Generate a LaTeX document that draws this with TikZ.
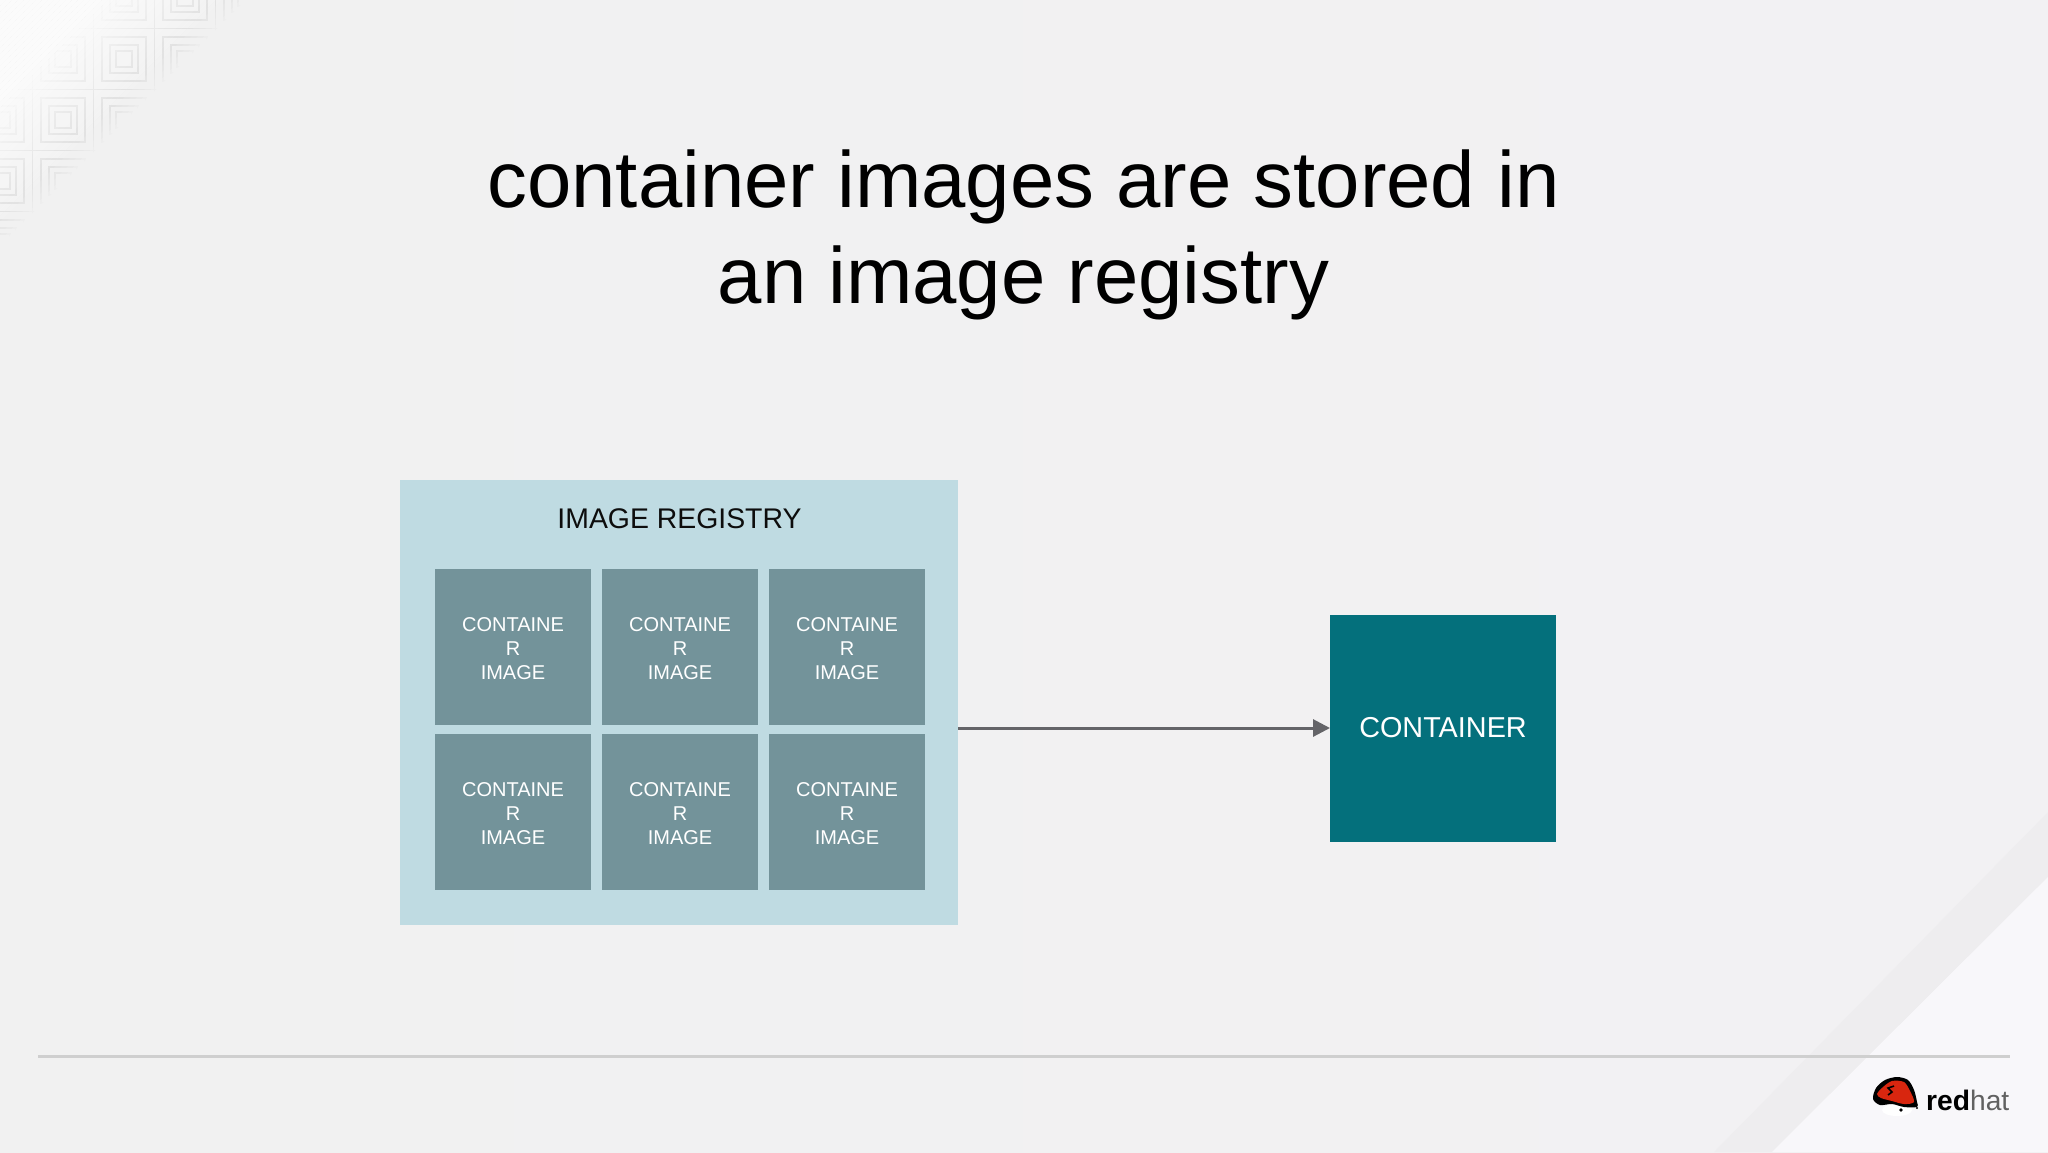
\documentclass[tikz,border=0pt]{standalone}
\usepackage{fontspec}
\setmainfont{Liberation Sans}
\usetikzlibrary{arrows.meta}
\definecolor{bgL}{HTML}{F1F1F1}
\definecolor{bgR}{HTML}{F2F1F3}
\definecolor{bandc}{HTML}{EEEDEF}
\definecolor{lightc}{HTML}{F8F7FA}
\definecolor{cornerc}{HTML}{FBFBFB}
\definecolor{patc}{HTML}{DADADA}
\definecolor{regc}{HTML}{BFDBE2}
\definecolor{imgc}{HTML}{73939A}
\definecolor{contc}{HTML}{04707C}
\definecolor{arrc}{HTML}{646468}
\definecolor{rulec}{HTML}{CFCFCF}
\definecolor{hatred}{HTML}{D8260F}
\newcommand{\imglabel}{\rule{0pt}{17pt}CONTAINE\\R\\IMAGE}
\tikzset{
  regbox/.style={fill=regc,draw=none,minimum width=558pt,minimum height=445pt,inner sep=0pt,outer sep=0pt},
  imgbox/.style={fill=imgc,draw=none,text=white,minimum width=156pt,minimum height=156pt,inner sep=0pt,outer sep=0pt,align=center,font=\fontsize{20}{24}\selectfont},
  contbox/.style={fill=contc,draw=none,text=white,minimum width=226pt,minimum height=227pt,inner sep=0pt,outer sep=0pt,font=\fontsize{28.8}{34}\selectfont},
  titletext/.style={align=center,inner sep=0pt,text=black,font=\fontsize{79.7}{96}\selectfont},
  regtext/.style={inner sep=0pt,text=black!95,font=\fontsize{28.4}{34}\selectfont},
  flow/.style={draw=arrc,line width=3pt,-{Triangle[length=17pt,width=17pt]}},
  patline/.style={draw=patc,line width=1.6pt}
}
\begin{document}
\begin{tikzpicture}[x=1pt,y=-1pt]
\useasboundingbox (0,0) rectangle (2048,1152);
% background
\shade[left color=bgL,right color=bgR] (0,0) rectangle (2048,1152);
\fill[bandc] (2048,812) -- (2048,877) -- (1772,1152) -- (1714,1152) -- cycle;
\fill[lightc] (2048,877) -- (2048,1152) -- (1772,1152) -- cycle;
% corner pattern
\begin{scope}
\clip (0,0) -- (245,0) -- (0,245) -- cycle;
\foreach \i in {0,...,4}{\foreach \j in {0,...,4}{
  \pgfmathsetmacro{\cx}{2+61*\i}
  \pgfmathsetmacro{\cy}{-2+61*\j}
  \foreach \h in {8,14,22,30.5}{
    \draw[patline] (\cx-\h,\cy-\h) rectangle (\cx+\h,\cy+\h);
  }
}}
\end{scope}
\foreach \s in {0,6,...,240}{
  \pgfmathsetmacro{\aval}{min(1,max(0,(248-\s)/150))}
  \fill[cornerc,fill opacity=\aval] (\s,0) -- (\s+6,0) -- (0,\s+6) -- (0,\s) -- cycle;
}
\foreach \s in {216,222,...,240}{
  \pgfmathsetmacro{\aval}{min(.95,(\s-210)/36)}
  \fill[bgL,fill opacity=\aval] (\s,0) -- (\s+6,0) -- (0,\s+6) -- (0,\s) -- cycle;
}
% title
\node[titletext] (title) at (1023.5,234.5) {container images are stored in\\an image registry};
% registry
\node[regbox] (registry) at (679,702.5) {};
\node[regtext] (regtitle) at (679.5,519) {IMAGE REGISTRY};
\node[imgbox] (i11) at (513,647) {\imglabel};
\node[imgbox] (i12) at (680,647) {\imglabel};
\node[imgbox] (i13) at (847,647) {\imglabel};
\node[imgbox] (i21) at (513,812) {\imglabel};
\node[imgbox] (i22) at (680,812) {\imglabel};
\node[imgbox] (i23) at (847,812) {\imglabel};
% container
\node[contbox] (container) at (1443,728) {CONTAINER};
\draw[flow] (registry.east |- container.west) -- (container.west);
% rule
\coordinate (ruleL) at (38,1056.5);
\coordinate (ruleR) at (2010,1056.5);
\draw[rulec,line width=3pt] (ruleL) -- (ruleR);
% logo
\fill[white] (1897,1110) ellipse (15pt and 6pt);
\fill[black] plot[smooth cycle] coordinates {(1873,1099) (1876,1088) (1885,1080) (1897,1077) (1908,1080) (1914,1090) (1917,1102) (1917,1107) (1904,1107) (1892,1104) (1880,1105)};
\fill[hatred] plot[smooth cycle] coordinates {(1877,1094) (1883,1087) (1892,1081) (1904,1082) (1910,1091) (1914,1102) (1904,1104) (1892,1101) (1881,1098)};
\draw[black,line width=1.6pt] (1894,1086) -- (1888,1088) -- (1892,1092) -- (1888,1095);
\fill[black] (1901,1110) circle (1.8pt) (1917,1108) circle (1.2pt);
\node[inner sep=0pt,anchor=base west,font=\fontsize{28.2}{34}\selectfont] (logotext) at (1926,1110) {\textbf{red}\textcolor{black!62}{hat}};
\end{tikzpicture}
\end{document}
